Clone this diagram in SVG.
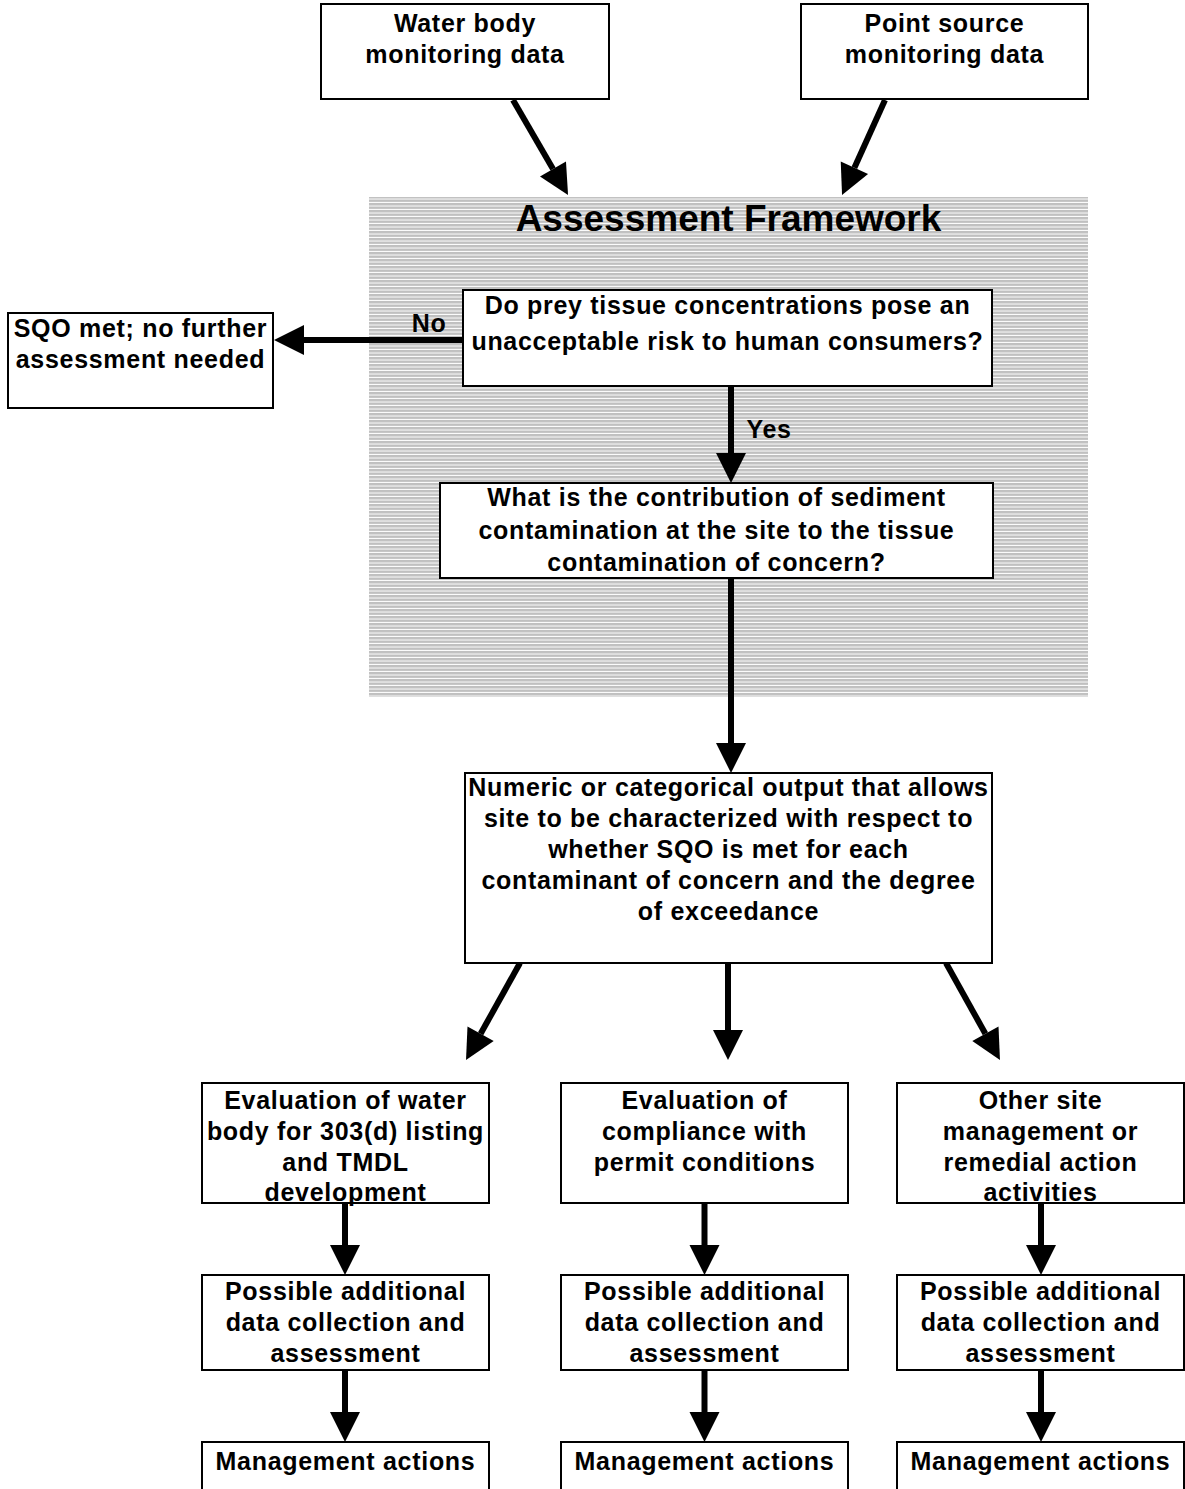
<svg xmlns="http://www.w3.org/2000/svg" width="1185" height="1489" viewBox="0 0 1185 1489">
<style>
.box{fill:#fff;stroke:#000;stroke-width:2}
.t{font-family:"Liberation Sans",Arial,Helvetica,sans-serif;font-weight:bold;font-size:25px;letter-spacing:0.7px;fill:#000;text-anchor:middle}
.title{font-family:"Liberation Sans",Arial,Helvetica,sans-serif;font-weight:bold;font-size:37px;fill:#000;text-anchor:middle}
.c{fill:none;stroke:#000;stroke-width:6;marker-end:url(#ah)}
</style>
<defs>
<pattern id="stripes" patternUnits="userSpaceOnUse" width="8" height="3.5">
<rect width="8" height="3.5" fill="#c0c0c0"/>
<rect y="2.5" width="8" height="1" fill="#ffffff"/>
</pattern>
<marker id="ah" markerUnits="strokeWidth" markerWidth="5" markerHeight="5" refX="0" refY="2.5" orient="auto" overflow="visible">
<path d="M0,0 L5,2.5 L0,5 Z" fill="#000"/>
</marker>
</defs>
<rect width="1185" height="1489" fill="#fff"/>
<g id="framework">
<rect x="369" y="197" width="719" height="500" fill="url(#stripes)"/>
<text class="title" x="728.5" y="231">Assessment Framework</text>
</g>
<g id="connectors">
<line class="c" x1="513" y1="100" x2="553" y2="169.1"/>
<line class="c" x1="885" y1="100" x2="854.4" y2="167.7"/>
<line class="c" x1="463" y1="340" x2="304" y2="340"/>
<line class="c" x1="731" y1="386" x2="731" y2="453"/>
<line class="c" x1="731" y1="578" x2="731" y2="743"/>
<line class="c" x1="520" y1="963" x2="480.6" y2="1033.8"/>
<line class="c" x1="728" y1="963" x2="728" y2="1030"/>
<line class="c" x1="946" y1="963" x2="985.4" y2="1033.8"/>
<line class="c" x1="345" y1="1203" x2="345" y2="1245"/>
<line class="c" x1="345" y1="1370" x2="345" y2="1412"/>
<line class="c" x1="704.5" y1="1203" x2="704.5" y2="1245"/>
<line class="c" x1="704.5" y1="1370" x2="704.5" y2="1412"/>
<line class="c" x1="1041" y1="1203" x2="1041" y2="1245"/>
<line class="c" x1="1041" y1="1370" x2="1041" y2="1412"/>
<text class="t" x="429" y="332">No</text>
<text class="t" x="769" y="438">Yes</text>
</g>
<g id="water-body">
<rect class="box" x="321" y="4" width="288" height="95"/>
<text class="t" x="465" y="32">Water body</text>
<text class="t" x="465" y="63">monitoring data</text>
</g>
<g id="point-source">
<rect class="box" x="801" y="4" width="287" height="95"/>
<text class="t" x="944.5" y="32">Point source</text>
<text class="t" x="944.5" y="63">monitoring data</text>
</g>
<g id="sqo-met">
<rect class="box" x="8" y="313" width="265" height="95"/>
<text class="t" x="140.5" y="337">SQO met; no further</text>
<text class="t" x="140.5" y="368">assessment needed</text>
</g>
<g id="q1">
<rect class="box" x="463" y="290" width="529" height="96"/>
<text class="t" x="727.5" y="314">Do prey tissue concentrations pose an</text>
<text class="t" x="727.5" y="350">unacceptable risk to human consumers?</text>
</g>
<g id="q2">
<rect class="box" x="440" y="483" width="553" height="95"/>
<text class="t" x="716.5" y="506">What is the contribution of sediment</text>
<text class="t" x="716.5" y="539">contamination at the site to the tissue</text>
<text class="t" x="716.5" y="571">contamination of concern?</text>
</g>
<g id="output">
<rect class="box" x="465" y="773" width="527" height="190"/>
<text class="t" x="728.5" y="796">Numeric or categorical output that allows</text>
<text class="t" x="728.5" y="827">site to be characterized with respect to</text>
<text class="t" x="728.5" y="858">whether SQO is met for each</text>
<text class="t" x="728.5" y="889">contaminant of concern and the degree</text>
<text class="t" x="728.5" y="920">of exceedance</text>
</g>
<g id="eval-303d">
<rect class="box" x="202" y="1083" width="287" height="120"/>
<text class="t" x="345.5" y="1109">Evaluation of water</text>
<text class="t" x="345.5" y="1140">body for 303(d) listing</text>
<text class="t" x="345.5" y="1171">and TMDL</text>
<text class="t" x="345.5" y="1201">development</text>
</g>
<g id="eval-permit">
<rect class="box" x="561" y="1083" width="287" height="120"/>
<text class="t" x="704.5" y="1109">Evaluation of</text>
<text class="t" x="704.5" y="1140">compliance with</text>
<text class="t" x="704.5" y="1171">permit conditions</text>
</g>
<g id="other-site">
<rect class="box" x="897" y="1083" width="287" height="120"/>
<text class="t" x="1040.5" y="1109">Other site</text>
<text class="t" x="1040.5" y="1140">management or</text>
<text class="t" x="1040.5" y="1171">remedial action</text>
<text class="t" x="1040.5" y="1201">activities</text>
</g>
<g id="data-1">
<rect class="box" x="202" y="1275" width="287" height="95"/>
<text class="t" x="345.5" y="1300">Possible additional</text>
<text class="t" x="345.5" y="1331">data collection and</text>
<text class="t" x="345.5" y="1362">assessment</text>
</g>
<g id="data-2">
<rect class="box" x="561" y="1275" width="287" height="95"/>
<text class="t" x="704.5" y="1300">Possible additional</text>
<text class="t" x="704.5" y="1331">data collection and</text>
<text class="t" x="704.5" y="1362">assessment</text>
</g>
<g id="data-3">
<rect class="box" x="897" y="1275" width="287" height="95"/>
<text class="t" x="1040.5" y="1300">Possible additional</text>
<text class="t" x="1040.5" y="1331">data collection and</text>
<text class="t" x="1040.5" y="1362">assessment</text>
</g>
<g id="mgmt-1">
<rect class="box" x="202" y="1442" width="287" height="60"/>
<text class="t" x="345.5" y="1470">Management actions</text>
</g>
<g id="mgmt-2">
<rect class="box" x="561" y="1442" width="287" height="60"/>
<text class="t" x="704.5" y="1470">Management actions</text>
</g>
<g id="mgmt-3">
<rect class="box" x="897" y="1442" width="287" height="60"/>
<text class="t" x="1040.5" y="1470">Management actions</text>
</g>
</svg>
